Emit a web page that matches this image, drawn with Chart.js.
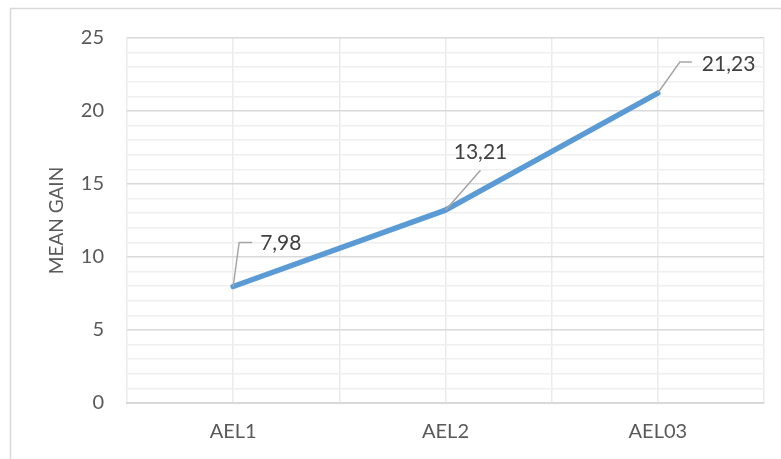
<!DOCTYPE html>
<html>
<head>
<meta charset="utf-8">
<script src="https://cdn.jsdelivr.net/npm/chart.js@4.4.1/dist/chart.umd.min.js"></script>
<style>
  html, body { margin: 0; padding: 0; background: #ffffff; }
  #wrap { width: 781px; height: 459px; position: relative; }
</style>
</head>
<body>
<div id="wrap"><canvas id="c" width="781" height="459"></canvas></div>
<script>
const categories = ["AEL1", "AEL2", "AEL03"];
const meanGain = [7.98, 13.21, 21.23];
const yTickLabels = ["0", "5", "10", "15", "20", "25"];
const axisTitle = "MEAN GAIN";

const FONT = "Lato, 'Open Sans', sans-serif";

const points = meanGain.map((v, i) => ({ x: i, y: v }));

const frame = {
  id: 'frame',
  beforeDraw(chart) {
    const ctx = chart.ctx;
    ctx.save();
    ctx.fillStyle = '#ffffff';
    ctx.fillRect(0, 0, chart.width, chart.height);
    ctx.strokeStyle = '#d9d9d9';
    ctx.lineWidth = 1.5;
    ctx.strokeRect(10.5, 8.5, chart.width + 20, chart.height + 20);
    ctx.restore();
  }
};

const leaders = {
  id: 'leaders',
  afterDatasetsDraw(chart) {
    const ctx = chart.ctx;
    const meta = chart.getDatasetMeta(0);
    // leader-line geometry per label, relative to the point (pixels)
    const geo = [
      { bend: [6, -44], end: [19, -44], text: [27, -43], align: 'left' },
      { bend: null, end: [35, -40], text: [35, -58], align: 'center' },
      { bend: [22, -31], end: [34, -31], text: [44, -29], align: 'left' }
    ];
    ctx.save();
    meta.data.forEach((pt, i) => {
      const g = geo[i];
      const x = pt.x, y = pt.y;
      ctx.strokeStyle = '#a6a6a6';
      ctx.lineWidth = 1.5;
      ctx.beginPath();
      ctx.moveTo(x, y);
      if (g.bend) ctx.lineTo(x + g.bend[0], y + g.bend[1]);
      ctx.lineTo(x + g.end[0], y + g.end[1]);
      ctx.stroke();
      ctx.fillStyle = '#404040';
      ctx.font = "21px " + FONT;
      ctx.textAlign = g.align;
      ctx.textBaseline = 'middle';
      const txt = meanGain[i].toFixed(2).replace('.', ',');
      ctx.fillText(txt, x + g.text[0], y + g.text[1]);
    });
    ctx.restore();
  }
};

new Chart(document.getElementById('c'), {
  type: 'line',
  data: {
    datasets: [{
      data: points,
      borderColor: '#5b9bd5',
      borderWidth: 5.5,
      borderCapStyle: 'round',
      borderJoinStyle: 'round',
      pointRadius: 0,
      pointHoverRadius: 0,
      tension: 0,
      fill: false
    }]
  },
  options: {
    responsive: false,
    animation: false,
    events: [],
    layout: { padding: { top: 38, right: 17, left: 0, bottom: 0 } },
    plugins: {
      legend: { display: false },
      tooltip: { enabled: false }
    },
    scales: {
      x: {
        type: 'linear',
        min: -0.5,
        max: 2.5,
        afterBuildTicks(scale) {
          const t = [];
          for (let v = -0.5; v <= 2.5001; v += 0.5) t.push({ value: v });
          scale.ticks = t;
        },
        afterFit(scale) { scale.height = 56; },
        ticks: {
          autoSkip: false,
          maxRotation: 0,
          minRotation: 0,
          padding: 17,
          color: '#595959',
          font: { family: FONT, size: 20 },
          callback(v) {
            return Number.isInteger(v) ? categories[v] : '';
          }
        },
        grid: {
          drawTicks: false,
          color: '#ebebeb',
          lineWidth: 1.5
        },
        border: { display: true, color: '#d9d9d9', width: 2 }
      },
      y: {
        type: 'linear',
        min: 0,
        max: 25,
        afterBuildTicks(scale) {
          const t = [];
          for (let v = 0; v <= 25; v++) t.push({ value: v });
          scale.ticks = t;
        },
        afterFit(scale) { scale.width = 127; },
        ticks: {
          autoSkip: false,
          padding: 23,
          color: '#595959',
          font: { family: FONT, size: 20 },
          callback(v) {
            return v % 5 === 0 ? yTickLabels[v / 5] : '';
          }
        },
        grid: {
          drawTicks: false,
          color(ctx) {
            return ctx.tick && ctx.tick.value % 5 === 0 ? '#d9d9d9' : '#efefef';
          },
          lineWidth: 1.5
        },
        border: { display: false },
        title: {
          display: true,
          text: axisTitle,
          color: '#595959',
          font: { family: FONT, size: 19 },
          padding: { top: 45, bottom: 0 }
        }
      }
    }
  },
  plugins: [frame, leaders]
});
</script>
</body>
</html>
